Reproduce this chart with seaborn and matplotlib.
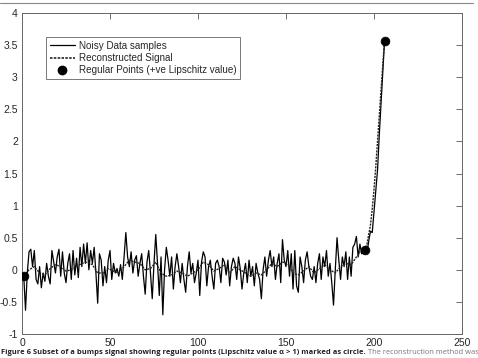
import matplotlib
matplotlib.use("Agg")
import matplotlib.pyplot as plt
import seaborn as sns
from matplotlib.lines import Line2D

# noisy bumps signal subset (sample index 1..206)
noisy = [
    -0.10, -0.63, -0.05, 0.28, 0.32, 0.05, 0.30, -0.15, -0.22, 0.05,
    -0.28, -0.05, -0.18, 0.10, -0.10, -0.22, 0.30, 0.12, -0.05, 0.20,
    0.32, -0.10, 0.28, -0.05, -0.20, 0.10, 0.25, -0.15, 0.30, -0.08,
    0.18, -0.12, 0.35, 0.05, 0.40, 0.10, 0.42, 0.00, 0.30, 0.10,
    0.35, -0.05, -0.52, 0.25, 0.15, -0.25, 0.05, -0.20, 0.15, 0.30,
    -0.15, 0.10, -0.05, 0.02, -0.10, 0.08, -0.15, 0.20, 0.58, 0.20,
    0.05, 0.28, -0.05, 0.15, 0.22, -0.10, 0.10, 0.25, -0.10, -0.38,
    0.12, 0.30, -0.05, -0.45, 0.10, 0.55, 0.10, -0.40, 0.20, -0.70,
    0.00, 0.35, 0.15, -0.10, 0.20, -0.30, 0.05, 0.25, 0.05, -0.20,
    0.10, -0.15, -0.35, 0.05, 0.28, -0.05, 0.10, -0.20, -0.05, 0.15,
    -0.40, 0.12, 0.28, 0.20, -0.25, 0.05, 0.15, -0.10, -0.30, 0.10,
    0.15, 0.05, -0.20, 0.18, 0.12, -0.08, 0.15, -0.25, 0.05, 0.18,
    0.10, -0.15, 0.20, 0.02, -0.30, -0.05, 0.10, -0.20, 0.15, -0.10,
    0.05, -0.25, 0.10, -0.05, -0.15, -0.45, 0.00, 0.20, -0.10, 0.15,
    0.30, 0.05, 0.20, -0.15, 0.10, 0.25, -0.20, 0.47, 0.15, 0.05,
    0.30, -0.10, 0.25, -0.30, 0.30, -0.25, -0.35, 0.20, 0.05, -0.20,
    0.15, 0.28, 0.05, -0.10, -0.15, 0.05, -0.20, 0.10, 0.25, -0.15,
    0.20, 0.05, 0.30, -0.10, 0.10, -0.20, -0.55, 0.00, 0.50, 0.15,
    -0.15, 0.20, 0.05, 0.28, -0.15, 0.20, -0.10, 0.35, 0.40, 0.52,
    0.20, 0.40, 0.25, 0.30, 0.32, 0.25, 0.45, 0.60, 0.58, 0.90,
    1.20, 1.55, 2.10, 2.60, 3.10, 3.57,
]
noisy_x = list(range(1, len(noisy) + 1))

# reconstructed signal
recon_x = list(range(1, 191, 3)) + list(range(191, 207))
recon = [
    -0.10, 0.00, 0.05, -0.05, -0.08, 0.02, 0.08, 0.05, -0.02, 0.00,
    0.05, 0.10, 0.12, 0.08, -0.05, -0.05, 0.02, -0.02, -0.05, 0.05,
    0.15, 0.12, 0.10, 0.00, 0.02, 0.12, -0.05, -0.10, -0.08, -0.02,
    -0.05, -0.10, -0.05, 0.00, 0.12, 0.08, -0.02, 0.02, 0.08, -0.05,
    0.05, 0.00, -0.05, -0.10, -0.05, -0.08, 0.00, 0.10, 0.05, 0.12,
    0.10, -0.05, -0.08, -0.02, 0.05, -0.05, 0.02, 0.08, 0.00, -0.05,
    0.05, 0.10, 0.08, 0.20,
    0.22, 0.28, 0.30, 0.30, 0.32, 0.40, 0.55, 0.70, 0.95, 1.25,
    1.60, 2.00, 2.40, 2.80, 3.20, 3.57,
]

# regular points (+ve Lipschitz value)
reg_x = [1, 195, 206]
reg_y = [-0.10, 0.31, 3.57]

sns.set_style("white")
plt.rcParams['font.family'] = ['Liberation Sans', 'DejaVu Sans']

fig = plt.figure(figsize=(4.78, 3.58), dpi=100)
ax = fig.add_axes([22 / 478, 24 / 358, 440 / 478, 321 / 358])

dash = (0, (1.5, 0.8))
sns.lineplot(x=noisy_x, y=noisy, color='black', lw=0.9, ax=ax)
sns.lineplot(x=recon_x, y=recon, color='#222222', lw=1.0, linestyle=dash, ax=ax)
sns.scatterplot(x=reg_x, y=reg_y, color='black', s=40, edgecolor='black', zorder=5, ax=ax)

ax.set_xlim(0, 250)
ax.set_ylim(-1, 4)
ax.set_xticks([0, 50, 100, 150, 200, 250])
ax.set_yticks([-1, -0.5, 0, 0.5, 1, 1.5, 2, 2.5, 3, 3.5, 4])
ax.set_yticklabels(['-1', '-0.5', '0', '0.5', '1', '1.5', '2', '2.5', '3', '3.5', '4'])
ax.tick_params(direction='in', length=4, width=0.6, labelsize=7.5, pad=3,
               top=True, right=True, color='#555555')
for s in ax.spines.values():
    s.set_color('#666666')
    s.set_linewidth(0.7)

handles = [
    Line2D([], [], color='black', lw=0.9),
    Line2D([], [], color='#222222', lw=1.2, linestyle=dash),
    Line2D([], [], color='black', marker='o', ls='none', markersize=6),
]
labels = ['Noisy Data samples', 'Reconstructed Signal', 'Regular Points (+ve Lipschitz value)']
leg = ax.legend(handles, labels, loc='upper left', bbox_to_anchor=(0.055, 0.925),
                fontsize=7.1, frameon=True, fancybox=False, handlelength=2.6,
                borderpad=0.35, labelspacing=0.25, handletextpad=0.4, borderaxespad=0)
leg.get_frame().set_edgecolor('#555555')
leg.get_frame().set_linewidth(0.7)

# frame line at top of the figure panel
fig.add_artist(Line2D([0.0, 0.99], [0.991, 0.991], color='#888888', lw=0.8))

t1 = fig.text(0.003, 0.01, 'Figure 6 Subset of a bumps signal showing regular points (Lipschitz value \u03b1 > 1) marked as circle.',
              fontsize=5.4, fontweight='bold', family=['Open Sans', 'DejaVu Sans'], color='#222222')
ax.annotate(' The reconstruction method was', xy=(1, 0), xycoords=t1, va='bottom', ha='left',
            fontsize=5.4, family=['Open Sans', 'DejaVu Sans'], color='#777777', annotation_clip=False)

fig.savefig('out.png', dpi=100)
